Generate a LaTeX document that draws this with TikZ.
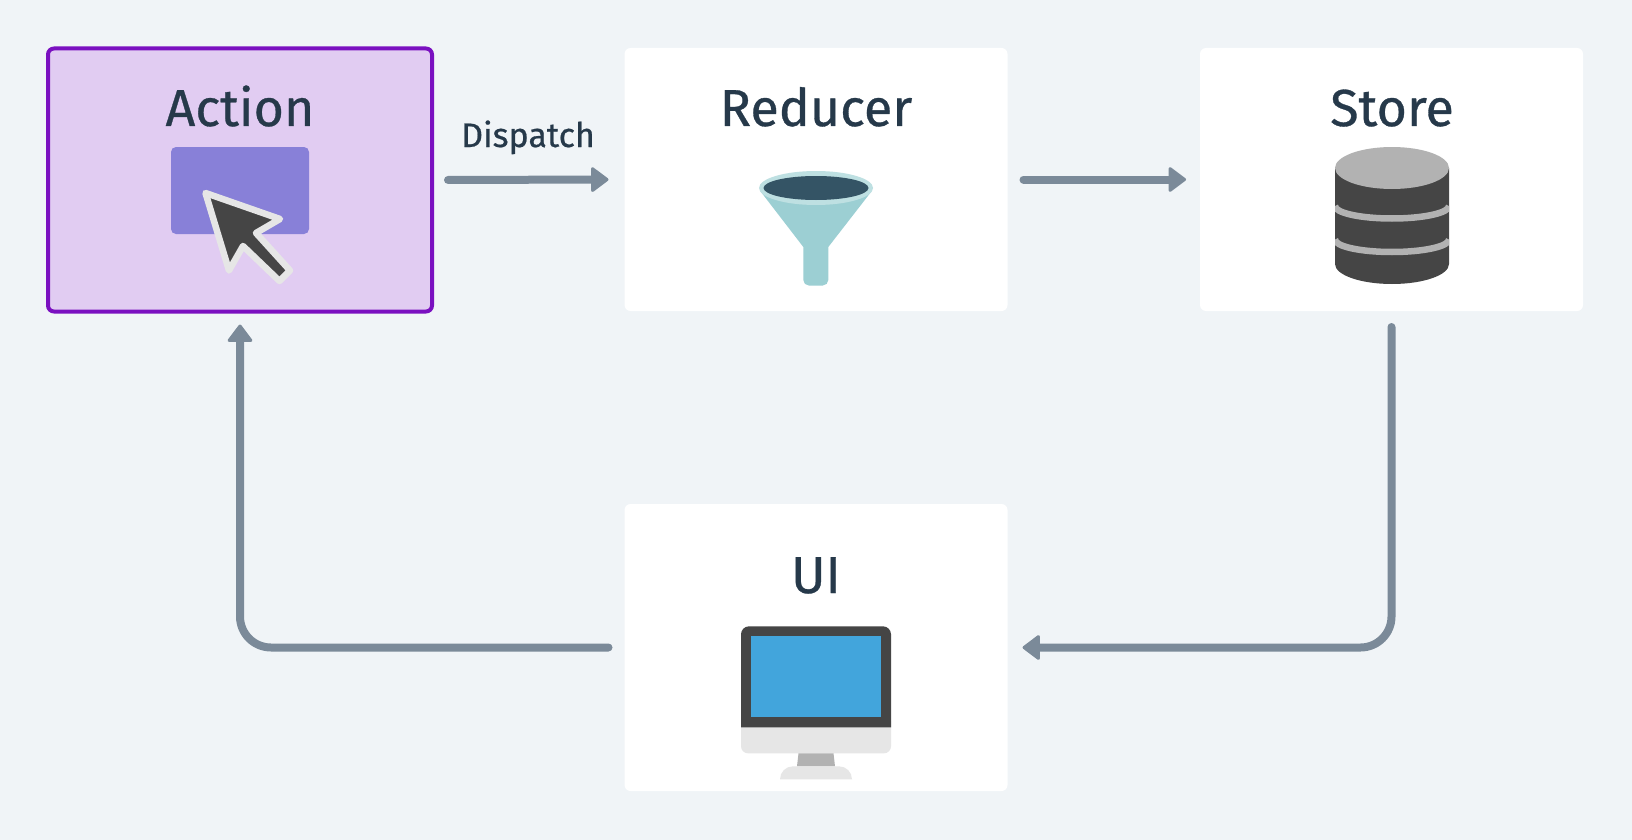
\documentclass[tikz,border=0pt]{standalone}
\usepackage{fontspec}
\setmainfont{Fira Sans}[FakeBold=0.6]
\usetikzlibrary{arrows.meta,backgrounds,positioning}

\definecolor{pagebg}{HTML}{F0F4F7}
\definecolor{inktext}{HTML}{26394A}
\definecolor{linkgrey}{HTML}{7B8A99}
\definecolor{actionfill}{HTML}{E1CCF2}
\definecolor{actionedge}{HTML}{7A10C0}
\definecolor{violet}{HTML}{8880D8}
\definecolor{darkgrey}{HTML}{454545}
\definecolor{midgrey}{HTML}{B2B2B2}
\definecolor{lightgrey}{HTML}{E6E6E6}
\definecolor{funnelrim}{HTML}{BEE0E2}
\definecolor{funnelbody}{HTML}{9CCFD3}
\definecolor{funneldark}{HTML}{345465}
\definecolor{screenblue}{HTML}{42A5DC}

\tikzset{
  card/.style={fill=white, rounded corners=6pt, inner sep=0pt, outer sep=0pt,
    minimum width=383pt, minimum height=263pt},
  title/.style={anchor=base, text=inktext, inner sep=0pt,
    font=\fontsize{52}{60}\selectfont},
  link/.style={draw=linkgrey, line width=8pt, line cap=round,
    -{Triangle[length=18.5pt,width=27pt,round,line width=3pt]}},
}

\begin{document}
\begin{tikzpicture}[x=1pt, y=-1pt]
            \def\funnelbody{(761,192) -- (803.3,247) -- (803.3,280) arc[start angle=180, end angle=90, radius=5.5]
                -- (822.8,285.5) arc[start angle=90, end angle=0, radius=5.5] -- (828.3,247) -- (871,192) -- cycle}
            \def\dbbody{(1335,168) -- (1335,264) arc[start angle=180, end angle=0, x radius=57, y radius=20]
                -- (1449,168) -- cycle}

            \useasboundingbox (0,0) rectangle (1632,840);
            \fill[pagebg] (0,0) rectangle (1632,840);

            \node[card, draw=actionedge, fill=actionfill, line width=4pt, minimum width=384pt] (action) at (240,180) {};
            \node[card] (reducer) at (816,179.5) {};
            \node[card] (store) at (1391.5,179.5) {};
            \node[card, minimum height=287pt] (ui) at (816,647.5) {};

            \node[title] (actiontitle) at (240,126) {Action};
            \node[title] (reducertitle) at (816,126) {Reducer};
            \node[title] (storetitle) at (1392,126) {Store};
            \node[title] (uititle) at (816,593) {UI};

            % action icon
            \fill[violet, rounded corners=5pt] (171,147) rectangle (309,234);
            \filldraw[fill=darkgrey, draw=lightgrey, line width=6.5pt, line join=round]
                (205.5,193) -- (280,219) -- (256,233) -- (290,270.5) -- (279.5,281) -- (243,246) -- (229,270.5) -- cycle;

            % reducer icon
            \fill[funnelbody] \funnelbody;
            \fill[funnelrim] (816,188) ellipse [x radius=57, y radius=17];
            \fill[funneldark] (816,188) ellipse [x radius=52.5, y radius=12];

            % store icon
            \fill[darkgrey] \dbbody;
            \begin{scope}
                \clip \dbbody;
                \foreach \bandy in {206,239.5}
                    \draw[midgrey, line width=6.5pt] (1335,\bandy) arc[start angle=180, end angle=0, x radius=57, y radius=12.5];
            \end{scope}
            \fill[midgrey] (1392,168) ellipse [x radius=57, y radius=21];

            % ui icon
            \begin{scope}[yshift=0.7pt]
                \fill[lightgrey, rounded corners=7pt] (741,715) rectangle (891,754);
                \fill[darkgrey] (741,728) -- (741,635) arc[start angle=180, end angle=270, radius=8] -- (883,627)
                    arc[start angle=270, end angle=360, radius=8] -- (891,728) -- cycle;
                \fill[screenblue] (751,637) rectangle (881,718);
                \fill[midgrey] (798.5,754) -- (833.5,754) -- (835,767) -- (797,767) -- cycle;
                \fill[lightgrey] (780,780) arc[start angle=180, end angle=270, radius=13] -- (839,767) arc[start angle=270, end angle=360, radius=13] -- cycle;
            \end{scope}

            % links
            \draw[link, shorten <=16pt, shorten >=16pt] (action.east) -- (reducer.west);
            \node[text=inktext, anchor=base, inner sep=0pt, font=\fontsize{34}{40}\selectfont] (dispatch) at (528,147) {Dispatch};
            \draw[link, shorten <=16pt, shorten >=14pt] (reducer.east) -- (store.west);
            \draw[link, rounded corners=31pt, shorten <=16pt, shorten >=15pt] (store.south) |- (ui.east);
            \draw[link, rounded corners=31pt, shorten <=16pt, shorten >=13pt] (ui.west) -| (action.south);
        \end{tikzpicture}
\end{document}
